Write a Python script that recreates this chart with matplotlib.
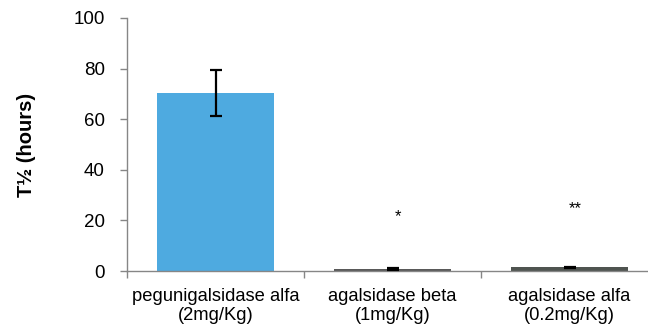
import matplotlib.pyplot as plt

plt.rcParams['font.family'] = ['Liberation Sans', 'DejaVu Sans']

categories = ['pegunigalsidase alfa\n(2mg/Kg)', 'agalsidase beta\n(1mg/Kg)', 'agalsidase alfa\n(0.2mg/Kg)']
half_life = [70.4, 1.0, 1.5]
errors = [9.2, 0.4, 0.2]
significance = ['', '*', '**']
sig_heights = [None, 21.5, 24.5]
colors = ['#4eaae0', '#595959', '#4f5450']
y_ticks = [0, 20, 40, 60, 80, 100]

fig = plt.figure(figsize=(6.48, 3.25), dpi=100)
ax = fig.add_axes([0.196, 0.166, 0.8195, 0.779])

x = list(range(len(categories)))
ax.bar(x, half_life, width=0.66, color=colors, zorder=2)
ax.errorbar(x, half_life, yerr=errors, fmt='none', ecolor='black',
            elinewidth=1.6, capsize=4.5, capthick=1.6, zorder=3)

for xi, s, h in zip(x, significance, sig_heights):
    if s:
        ax.text(xi + 0.03, h, s, ha='center', va='center', fontsize=12)

ax.set_xlim(-0.5, 2.5)
ax.set_ylim(0, 100)
ax.set_yticks(y_ticks)
ax.set_xticks([-0.5, 0.5, 1.5, 2.5], minor=False)
ax.set_xticklabels([])
ax.set_xticks(x, minor=True)
ax.set_xticklabels(categories, minor=True, fontsize=13.2, linespacing=1.2)
ax.tick_params(axis='x', which='minor', length=0, pad=12)
ax.tick_params(axis='x', which='major', length=5, color='#868686', width=1)
ax.tick_params(axis='y', length=5, color='#868686', width=1, labelsize=13.5, pad=11)

for side in ['top', 'right']:
    ax.spines[side].set_visible(False)
for side in ['left', 'bottom']:
    ax.spines[side].set_color('#868686')
    ax.spines[side].set_linewidth(1)

ax.set_ylabel('T½ (hours)', fontsize=14.5, fontweight='bold', labelpad=27)

fig.savefig('out.png', dpi=100)
